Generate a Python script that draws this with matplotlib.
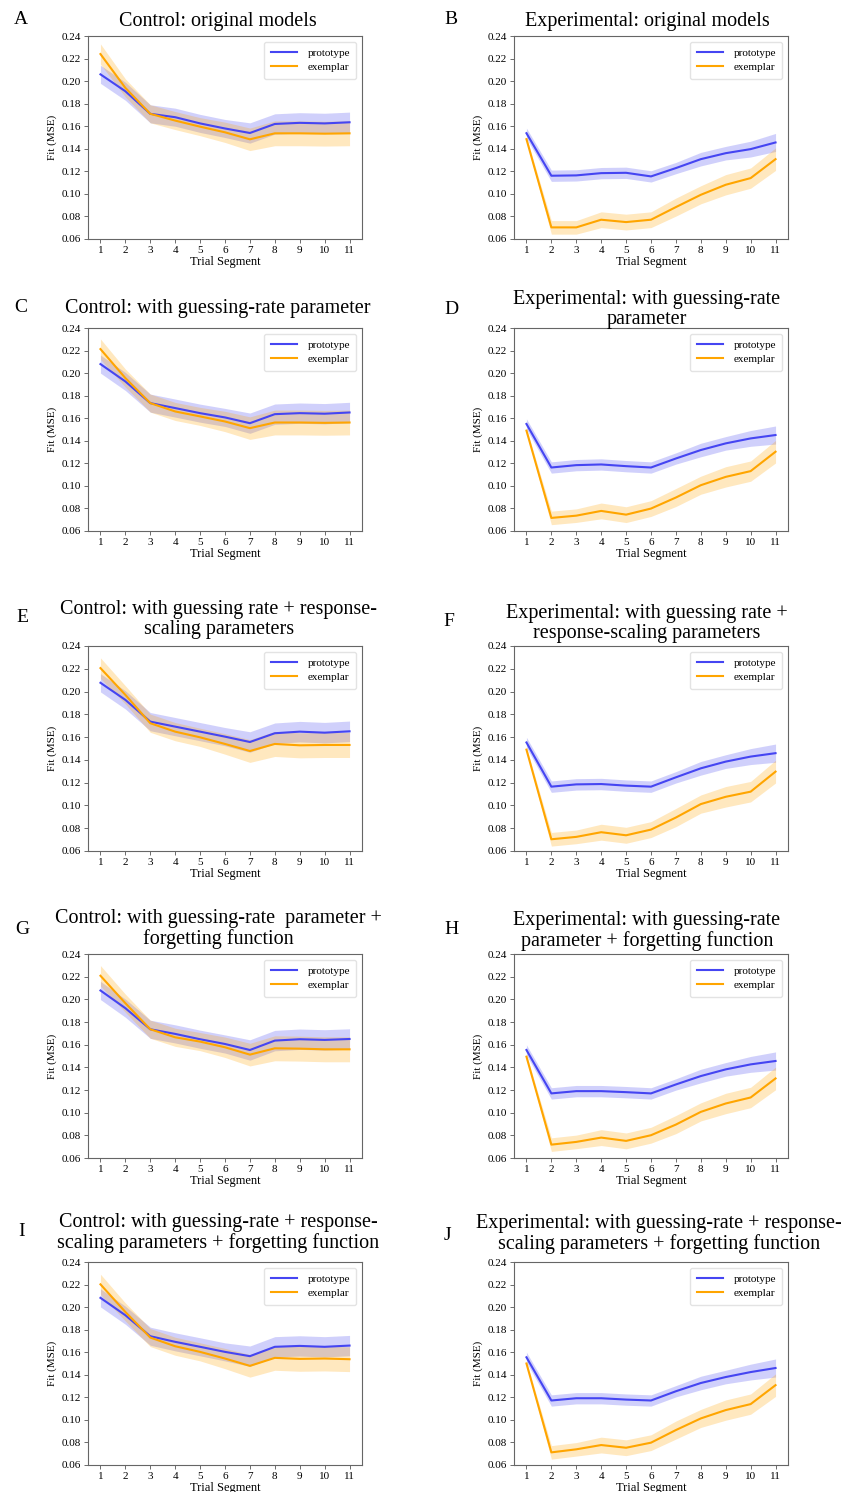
import matplotlib
matplotlib.use("Agg")
import matplotlib.pyplot as plt
import numpy as np

plt.rcParams["font.family"] = ["Liberation Serif", "DejaVu Serif"]

W, H = 848, 1492

segments = list(range(1, 12))

# mean fit per trial segment, control group
a_proto = [0.206, 0.191, 0.171, 0.168, 0.1625, 0.158, 0.154, 0.162, 0.163, 0.1625, 0.1635]
a_exem = [0.224, 0.194, 0.171, 0.165, 0.1596, 0.1546, 0.1484, 0.1537, 0.1537, 0.1534, 0.1537]
c_proto = [0.208, 0.1926, 0.1734, 0.169, 0.1645, 0.1607, 0.1556, 0.1636, 0.1645, 0.164, 0.1651]
c_exem = [0.2213, 0.1956, 0.1734, 0.166, 0.1616, 0.1571, 0.1512, 0.1562, 0.1562, 0.1559, 0.1562]
e_proto = [0.2077, 0.1927, 0.1736, 0.1692, 0.1648, 0.1604, 0.1557, 0.1634, 0.1648, 0.1639, 0.1651]
e_exem = [0.2206, 0.1971, 0.1722, 0.1648, 0.1598, 0.154, 0.1478, 0.154, 0.1528, 0.1531, 0.1531]
g_proto = [0.2078, 0.1922, 0.1736, 0.1695, 0.1648, 0.1606, 0.1553, 0.1636, 0.1648, 0.1642, 0.165]
g_exem = [0.2208, 0.1966, 0.1736, 0.1665, 0.1627, 0.1577, 0.1512, 0.1568, 0.1565, 0.1559, 0.1559]
i_proto = [0.2082, 0.1928, 0.1742, 0.1692, 0.1648, 0.1603, 0.1565, 0.1648, 0.1656, 0.1648, 0.1659]
i_exem = [0.2202, 0.1957, 0.173, 0.1653, 0.1603, 0.1544, 0.1479, 0.155, 0.1541, 0.1544, 0.1538]

# mean fit per trial segment, experimental group
b_proto = [0.1538, 0.1161, 0.1164, 0.1184, 0.1187, 0.1155, 0.1229, 0.1308, 0.1361, 0.1397, 0.1456]
b_exem = [0.1485, 0.0703, 0.0703, 0.0771, 0.075, 0.0771, 0.0883, 0.0992, 0.1081, 0.114, 0.1308]
d_proto = [0.1549, 0.1163, 0.1184, 0.119, 0.1175, 0.1163, 0.1243, 0.1318, 0.1377, 0.1421, 0.1451]
d_exem = [0.149, 0.0716, 0.0736, 0.0778, 0.0745, 0.0799, 0.0897, 0.1006, 0.108, 0.1131, 0.1303]
f_proto = [0.1553, 0.1165, 0.1185, 0.1188, 0.1174, 0.1165, 0.1247, 0.1326, 0.1385, 0.1429, 0.1459]
f_exem = [0.149, 0.0703, 0.0724, 0.0765, 0.0738, 0.0788, 0.0894, 0.1012, 0.1076, 0.1121, 0.1297]
h_proto = [0.1553, 0.117, 0.119, 0.119, 0.1181, 0.117, 0.1249, 0.1323, 0.1382, 0.1426, 0.1456]
h_exem = [0.1494, 0.0718, 0.0742, 0.078, 0.0751, 0.0801, 0.0895, 0.1007, 0.1081, 0.1134, 0.1302]
j_proto = [0.1555, 0.1172, 0.1192, 0.1192, 0.1180, 0.1172, 0.1254, 0.1327, 0.1380, 0.1424, 0.1460]
j_exem = [0.15, 0.0712, 0.0739, 0.0777, 0.0753, 0.0798, 0.091, 0.1013, 0.1087, 0.114, 0.1308]

# half-width of the shaded interval
ctrl_proto_err = [0.008, 0.008, 0.008, 0.008, 0.008, 0.008, 0.009, 0.009, 0.009, 0.009, 0.009]
ctrl_exem_err = [0.009, 0.008, 0.008, 0.008, 0.008, 0.009, 0.010, 0.011, 0.011, 0.011, 0.011]
exp_proto_err = [0.0045, 0.005, 0.005, 0.005, 0.005, 0.005, 0.005, 0.006, 0.006, 0.007, 0.008]
exp_exem_err = [0.002, 0.006, 0.006, 0.007, 0.007, 0.007, 0.008, 0.008, 0.009, 0.009, 0.010]

letters = list("ABCDEFGHIJ")
titles = [
    "Control: original models",
    "Experimental: original models",
    "Control: with guessing-rate parameter",
    "Experimental: with guessing-rate\nparameter",
    "Control: with guessing rate + response-\nscaling parameters",
    "Experimental: with guessing rate +\nresponse-scaling parameters",
    "Control: with guessing-rate  parameter +\nforgetting function",
    "Experimental: with guessing-rate\nparameter + forgetting function",
    "Control: with guessing-rate + response-\nscaling parameters + forgetting function",
    "Experimental: with guessing-rate + response-\nscaling parameters + forgetting function",
]
protos = [a_proto, b_proto, c_proto, d_proto, e_proto, f_proto, g_proto, h_proto, i_proto, j_proto]
exems = [a_exem, b_exem, c_exem, d_exem, e_exem, f_exem, g_exem, h_exem, i_exem, j_exem]

# panel layout in pixels: axes top/bottom per row, left/right per column
row_tb = [(36, 239), (328, 531), (646, 851), (954, 1158), (1262, 1465)]
col_lr = [(88, 362), (514, 788)]
# title centre x and baseline y of its last line; letter centre
title_xy = [(218, 26), (647, 26), (218, 313), (647, 324), (219, 634),
            (647, 638), (218, 944), (647, 946), (218, 1248), (659, 1249)]
letter_xy = [(21, 20), (451, 20), (21, 307), (451, 310), (22, 617),
             (449, 622), (22, 930), (452, 930), (22, 1232), (447, 1235)]

BLUE = "#4545f2"
ORANGE = "#ffa500"

fig = plt.figure(figsize=(W / 100, H / 100), dpi=100)

for k in range(10):
    row, col = divmod(k, 2)
    top, bot = row_tb[row]
    left, right = col_lr[col]
    ax = fig.add_axes([left / W, 1 - bot / H, (right - left) / W, (bot - top) / H])

    x = np.array(segments)
    p = np.array(protos[k])
    e = np.array(exems[k])
    perr = np.array(ctrl_proto_err if col == 0 else exp_proto_err)
    eerr = np.array(ctrl_exem_err if col == 0 else exp_exem_err)

    ax.plot(x, p, color=BLUE, lw=1.5, label="prototype")
    ax.fill_between(x, p - perr, p + perr, color=BLUE, alpha=0.25, lw=0)
    ax.plot(x, e, color=ORANGE, lw=1.5, label="exemplar")
    ax.fill_between(x, e - eerr, e + eerr, color=ORANGE, alpha=0.25, lw=0)

    ax.set_ylim(0.06, 0.24)
    yt = np.arange(0.06, 0.2401, 0.02)
    ax.set_yticks(yt)
    ax.set_yticklabels([f"{v:.2f}" for v in yt])
    ax.set_xticks(segments)
    ax.tick_params(labelsize=8, color="#555555", length=3, width=0.6, pad=2)
    for s in ax.spines.values():
        s.set_color("#666666")
        s.set_linewidth(0.8)
    ax.set_xlabel("Trial Segment", fontsize=9, labelpad=1)
    ax.set_ylabel("Fit (MSE)", fontsize=8, labelpad=3)
    ax.legend(loc="upper right", fontsize=8, handlelength=2.4, borderpad=0.6,
              labelspacing=0.4, handletextpad=0.9, edgecolor="#dddddd", fancybox=True)

    tx, ty = title_xy[k]
    fig.text(tx / W, 1 - ty / H, titles[k], ha="center", va="baseline",
             fontsize=14.5, linespacing=1.05)
    lx, ly = letter_xy[k]
    fig.text(lx / W, 1 - ly / H, letters[k], ha="center", va="center", fontsize=14)

fig.savefig("out.png", dpi=100)
